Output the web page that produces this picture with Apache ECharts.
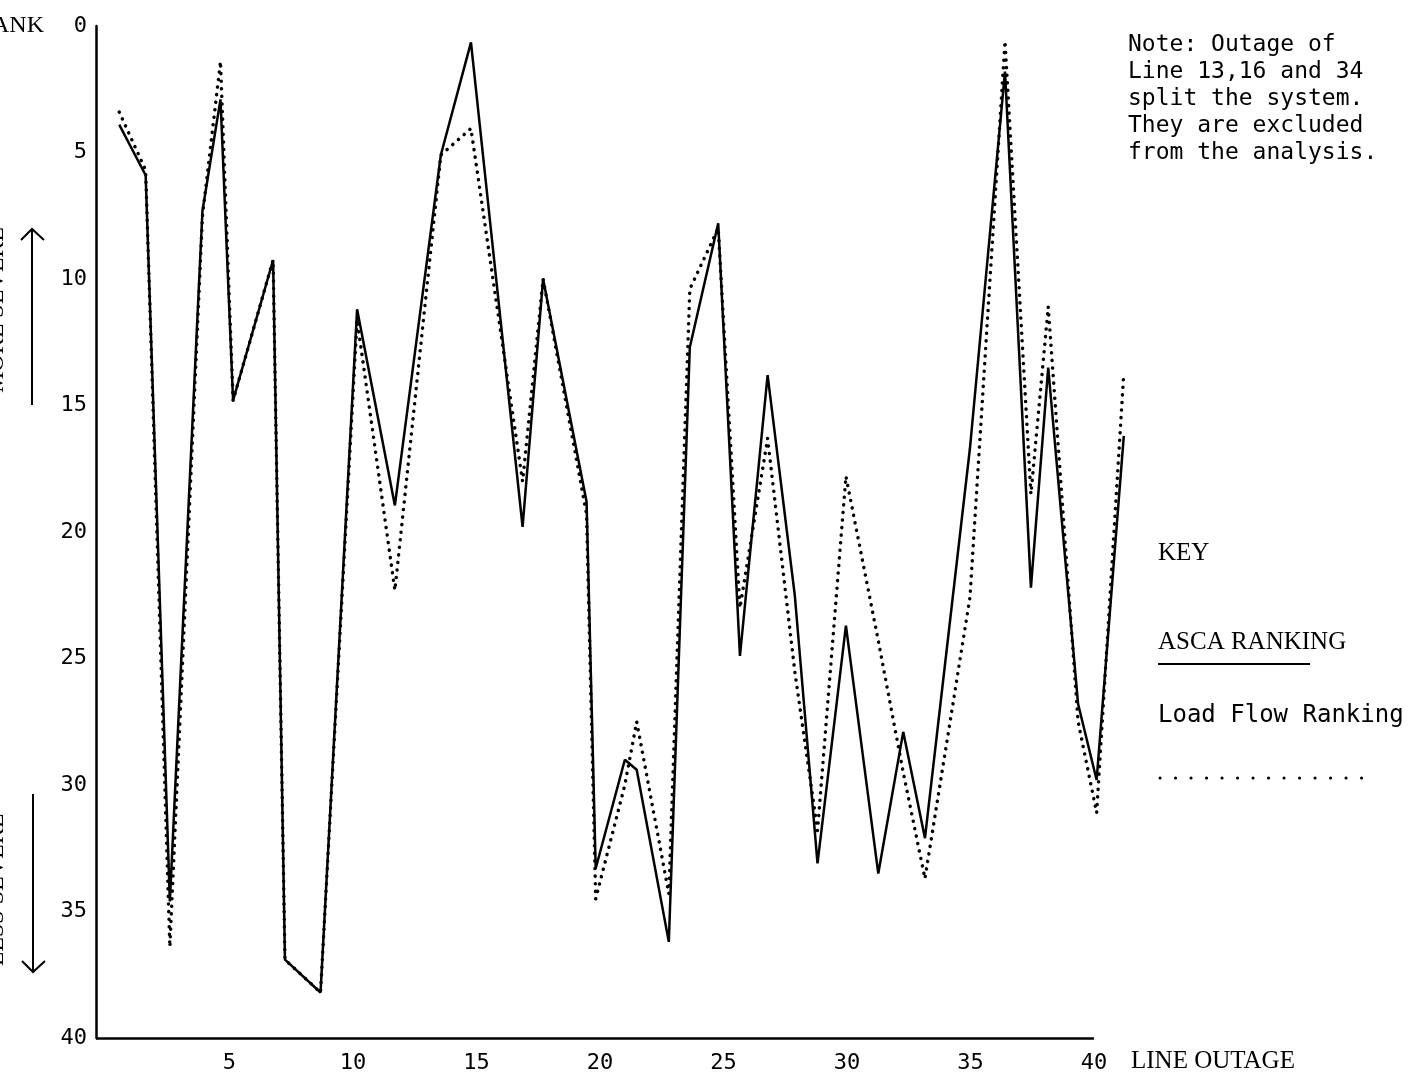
<!DOCTYPE html>
<html lang="en">
<head>
    <meta charset="UTF-8">
    <title>ASCA vs Load Flow Ranking</title>
    <script src="https://cdn.jsdelivr.net/npm/echarts@6/dist/echarts.min.js"></script>
    <style>
        body { margin: 0; background: #fff; }
        #chart { width: 1415px; height: 1079px; }
    </style>
</head>
<body>
    <div id="chart"></div>

    <script>
        // x position of each plotted outage (lines 13, 16 and 34 are left out)
        const outagePos = [0.54, 1.61, 2.59, 3.91, 4.64, 5.15, 6.77, 7.25, 8.69, 10.17,
            11.70, 13.56, 14.78, 16.87, 17.70, 19.46, 19.83, 21.01, 21.49, 22.79,
            23.64, 24.79, 25.67, 26.79, 27.89, 28.81, 29.96, 31.27, 32.28, 33.16,
            34.98, 36.40, 37.45, 38.15, 39.36, 40.11, 41.21];

        const ascaRank = [3.9, 5.9, 34.6, 7.3, 2.9, 14.8, 9.25, 36.9, 38.2, 11.2,
            18.95, 5.1, 0.65, 19.8, 10.0, 18.8, 33.3, 29.0, 29.4, 36.2,
            12.7, 7.8, 24.9, 13.8, 22.5, 33.1, 23.7, 33.5, 27.9, 32.1,
            16.7, 1.8, 22.2, 13.5, 26.8, 29.8, 16.2];

        const loadFlowRank = [3.4, 5.7, 36.4, 7.5, 1.4, 14.8, 9.25, 36.9, 38.2, 11.6,
            22.3, 5.1, 4.05, 18.0, 10.0, 19.3, 34.5, 30.0, 27.5, 34.3,
            10.4, 8.0, 23.0, 16.3, 25.5, 31.8, 17.8, 24.3, 29.5, 33.7,
            22.6, 0.6, 18.5, 11.1, 27.5, 31.1, 13.7];

        const xTickLabels = [5, 10, 15, 20, 25, 30, 35, 40];
        const rankTicks = [0, 5, 10, 15, 20, 25, 30, 35, 40];
        const xStart = -0.4;   // where the rank axis sits
        const xEnd = 40;       // where the drawn x axis line stops

        const noteLines = [
            'Note: Outage of',
            'Line 13,16 and 34',
            'split the system.',
            'They are excluded',
            'from the analysis.'
        ];

        const serif = '"Liberation Serif", "DejaVu Serif", serif';
        const mono = '"DejaVu Sans Mono", "Liberation Mono", monospace';

        const chart = echarts.init(document.getElementById('chart'));

        const options = {
            backgroundColor: '#fff',
            animation: false,
            // the last points run past the end of the x axis, so the grid is wider than the axis line
            grid: { left: 96, top: 26, width: 1032.5, height: 1012 },
            xAxis: {
                type: 'value',
                position: 'bottom',
                min: xStart,
                max: 41.4,
                interval: 0.2,
                axisLine: { show: false },
                axisTick: { show: false },
                splitLine: { show: false },
                axisLabel: {
                    margin: 14,
                    color: '#000',
                    fontFamily: mono,
                    fontSize: 22,
                    formatter: v => {
                        const r = Math.round(v);
                        return (Math.abs(v - r) < 1e-6 && xTickLabels.includes(r)) ? String(r) : '';
                    }
                }
            },
            yAxis: {
                type: 'value',
                inverse: true,
                min: rankTicks[0],
                max: rankTicks[rankTicks.length - 1],
                interval: 5,
                axisLine: { show: true, onZero: false, lineStyle: { color: '#000', width: 2.5 } },
                axisTick: { show: false },
                splitLine: { show: false },
                axisLabel: {
                    margin: 9,
                    color: '#000',
                    fontFamily: mono,
                    fontSize: 22
                }
            },
            series: [
                {
                    name: 'ASCA RANKING',
                    type: 'line',
                    clip: false,
                    symbol: 'none',
                    data: outagePos.map((x, i) => [x, ascaRank[i]]),
                    lineStyle: { color: '#000', width: 2.5 },
                    // x axis line, from the rank axis to 40
                    markLine: {
                        silent: true,
                        symbol: 'none',
                        label: { show: false },
                        lineStyle: { color: '#000', width: 2.5, type: 'solid' },
                        data: [[{ coord: [xStart, 40] }, { coord: [xEnd, 40] }]]
                    }
                },
                {
                    name: 'Load Flow Ranking',
                    type: 'line',
                    clip: false,
                    symbol: 'none',
                    data: outagePos.map((x, i) => [x, loadFlowRank[i]]),
                    lineStyle: { color: '#000', width: 3.5, type: [0.1, 7.5], cap: 'round' }
                }
            ],
            graphic: [
                // y axis title, cut by the page edge
                { type: 'text', x: -24, y: 26, style: { text: 'RANK', font: '24px ' + serif, fill: '#000', verticalAlign: 'middle' } },
                { type: 'text', x: -3, y: 310, rotation: Math.PI / 2,
                  style: { text: 'MORE SEVERE', font: '24px ' + serif, fill: '#000', align: 'center', verticalAlign: 'middle' } },
                { type: 'text', x: -3, y: 890, rotation: Math.PI / 2,
                  style: { text: 'LESS SEVERE', font: '24px ' + serif, fill: '#000', align: 'center', verticalAlign: 'middle' } },
                // arrows
                { type: 'line', shape: { x1: 32, y1: 405, x2: 32, y2: 229 }, style: { stroke: '#000', lineWidth: 2 } },
                { type: 'polyline', shape: { points: [[21, 240], [32, 229], [44, 240]] }, style: { stroke: '#000', lineWidth: 2, fill: null } },
                { type: 'line', shape: { x1: 33, y1: 794, x2: 33, y2: 972 }, style: { stroke: '#000', lineWidth: 2 } },
                { type: 'polyline', shape: { points: [[22, 961], [33, 972], [45, 961]] }, style: { stroke: '#000', lineWidth: 2, fill: null } },
                // x axis title
                { type: 'text', x: 1131, y: 1061, style: { text: 'LINE OUTAGE', font: '25px ' + serif, fill: '#000', verticalAlign: 'middle' } },
                // note
                { type: 'text', x: 1128, y: 32,
                  style: { text: noteLines.join('\n'), font: '23px ' + mono, lineHeight: 27, fill: '#000', verticalAlign: 'top' } },
                // key
                { type: 'text', x: 1158, y: 553, style: { text: 'KEY', font: '25px ' + serif, fill: '#000', verticalAlign: 'middle' } },
                { type: 'text', x: 1158, y: 642, style: { text: 'ASCA RANKING', font: '25px ' + serif, fill: '#000', verticalAlign: 'middle' } },
                { type: 'line', shape: { x1: 1158, y1: 664, x2: 1310, y2: 664 }, style: { stroke: '#000', lineWidth: 2 } },
                { type: 'text', x: 1158, y: 716, style: { text: 'Load Flow Ranking', font: '24px ' + mono, fill: '#000', verticalAlign: 'middle' } },
                { type: 'line', shape: { x1: 1160, y1: 778, x2: 1362, y2: 778 },
                  style: { stroke: '#000', lineWidth: 3, lineDash: [0.1, 15.4], lineCap: 'round' } }
            ]
        };

        chart.setOption(options);
    </script>
</body>
</html>
